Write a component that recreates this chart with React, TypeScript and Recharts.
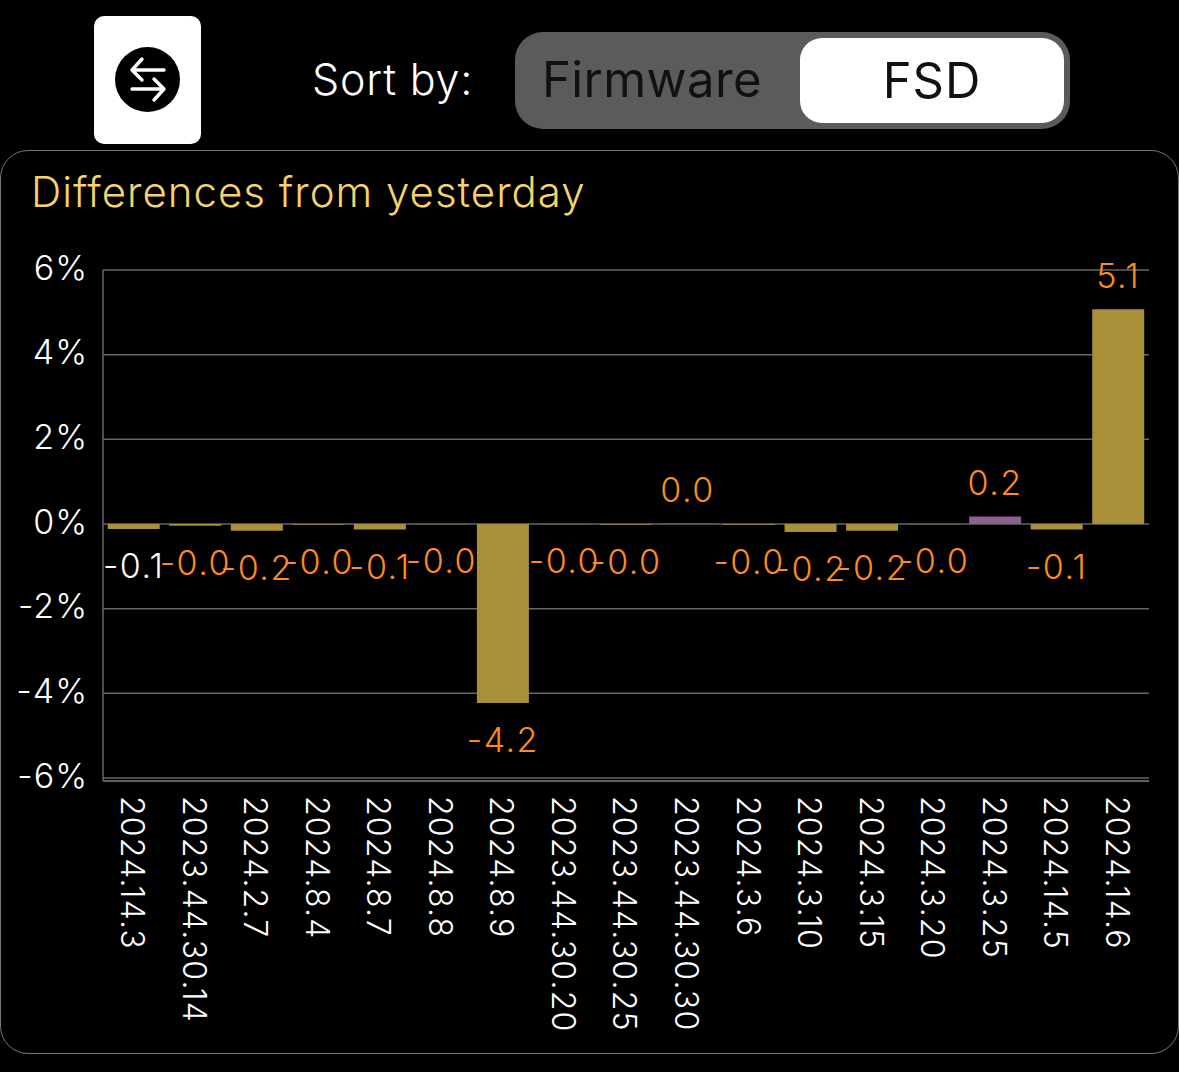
import React from "react";
import { BarChart, Bar, XAxis, YAxis, CartesianGrid, Cell, LabelList } from "recharts";

const versions = ["2024.14.3","2023.44.30.14","2024.2.7","2024.8.4","2024.8.7","2024.8.8","2024.8.9","2023.44.30.20","2023.44.30.25","2023.44.30.30","2024.3.6","2024.3.10","2024.3.15","2024.3.20","2024.3.25","2024.14.5","2024.14.6"];
const differences = [-0.12,-0.04,-0.16,-0.02,-0.13,-0.004,-4.23,-0.004,-0.02,0.004,-0.02,-0.19,-0.16,-0.004,0.18,-0.13,5.07];
const yTicks = [-6,-4,-2,0,2,4,6];
const purpleVersion = "2024.3.25";
const whiteLabelVersion = "2024.14.3";

const rows = versions.map((version, i) => ({ version, diff: differences[i] }));
const font = "Inter, 'Noto Sans', sans-serif";
const GOLD = "#A98F37";
const PURPLE = "#8E5F94";
const ORANGE = "#FF8A1E";
const GRID = "#666666";

const XTick = (p: any) => (
  <text x={0} y={0} transform={`translate(${p.x - 1},796) rotate(90)`} dy="0.36em" textAnchor="start" fill="#fff" fontSize={32} letterSpacing={1.2} fontFamily={font} fontWeight={300}>
    {p.payload.value}
  </text>
);
const YTick = (p: any) => (
  <text x={88} y={p.y - 2.5} dy="0.36em" textAnchor="end" fill="#fff" fontSize={34} letterSpacing={1} fontFamily={font} fontWeight={300}>
    {p.payload.value}%
  </text>
);
const BarLabel = (p: any) => {
  const v = Number(p.value);
  const w = Number(p.width);
  const h = Number(p.height);
  const y = Number(p.y);
  const end = v >= 0 ? Math.min(y, y + h) - 34 : Math.max(y, y + h) + 37;
  const isWhite = versions[p.index] === whiteLabelVersion;
  return (
    <text x={Number(p.x) + w / 2} y={end} dy="0.36em" textAnchor="middle" fill={isWhite ? "#fff" : ORANGE} fontSize={34} letterSpacing={1.5} fontFamily={font} fontWeight={300}>
      {v.toFixed(1)}
    </text>
  );
};

const abs = (s: React.CSSProperties): React.CSSProperties => ({ position: "absolute", boxSizing: "border-box", ...s });

export default function App() {
  return (
    <div style={{ position: "absolute", left: 0, top: 0, width: 1179, height: 1072, background: "#000", overflow: "hidden", fontFamily: font }}>
      <style>{`html,body{margin:0;padding:0;background:#000}`}</style>
      <div style={abs({ left: 94, top: 16, width: 107, height: 128, background: "#fff", borderRadius: 10 })} />
      <svg style={abs({ left: 115, top: 47 })} width={65} height={65} viewBox="0 0 65 65">
        <circle cx={32.5} cy={32.5} r={32.5} fill="#000" />
        <g fill="none" stroke="#fff" strokeWidth={3.4} strokeLinecap="round" strokeLinejoin="round">
          <path d="M17 23H49M27 12L17 23L27 33" />
          <path d="M17 42H49M39 32L49 42L39 53" />
        </g>
      </svg>
      <div style={abs({ left: 312, top: 51, fontSize: 43, letterSpacing: 0.8, lineHeight: "56px", color: "#fff", fontWeight: 300 })}>Sort by:</div>
      <div style={abs({ left: 515, top: 32, width: 555, height: 97, background: "#5B5B5D", borderRadius: 28 })} />
      <div style={abs({ left: 542, top: 48, fontSize: 49, letterSpacing: 0.4, lineHeight: "64px", color: "#111", fontWeight: 400 })}>Firmware</div>
      <div style={abs({ left: 800, top: 38, width: 264, height: 85, background: "#fff", borderRadius: 22, textAlign: "center", fontSize: 49, letterSpacing: 1, lineHeight: "85px", color: "#111", fontWeight: 400 })}>FSD</div>
      <div style={abs({ left: 0, top: 150, width: 1179, height: 904, border: "1.5px solid #777", borderRadius: 28 })} />
      <div style={abs({ left: 31, top: 165, fontSize: 42, letterSpacing: 1, lineHeight: "54px", color: "#F4D36C", fontWeight: 300 })}>Differences from yesterday</div>
      <div style={abs({ left: 0, top: 0 })}>
        <BarChart width={1179} height={1072} data={rows} margin={{ top: 270, right: 30, bottom: 0, left: 0 }} barCategoryGap="7.7%">
          <CartesianGrid vertical={false} stroke={GRID} strokeWidth={1.5} />
          <XAxis dataKey="version" height={291} interval={0} tick={XTick} tickLine={false} axisLine={{ stroke: GRID, strokeWidth: 1.5 }} />
          <YAxis width={103} domain={[-6.07, 6]} ticks={yTicks} tick={YTick} tickLine={false} axisLine={{ stroke: GRID, strokeWidth: 1.5 }} allowDataOverflow />
          <Bar dataKey="diff" isAnimationActive={false}>
            {rows.map((r) => <Cell key={r.version} fill={r.version === purpleVersion ? PURPLE : GOLD} />)}
            <LabelList dataKey="diff" content={BarLabel} />
          </Bar>
        </BarChart>
      </div>
    </div>
  );
}
